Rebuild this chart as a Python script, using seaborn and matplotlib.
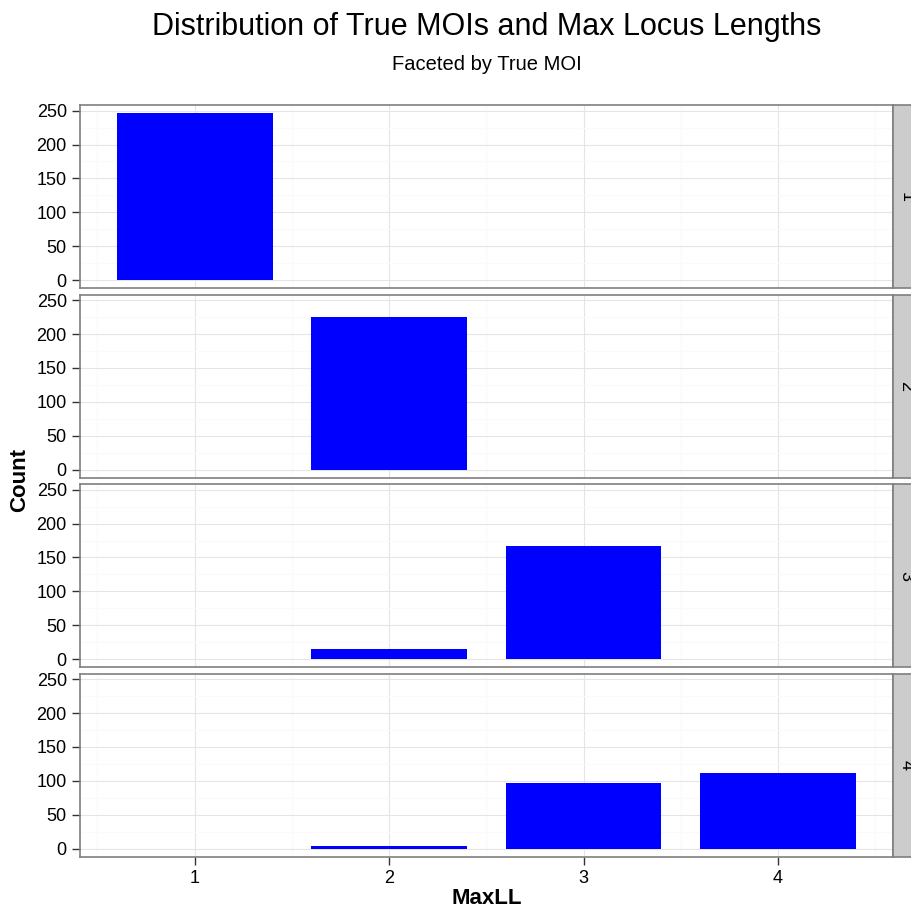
import pandas as pd
import matplotlib.pyplot as plt
import seaborn as sns
from matplotlib.patches import Rectangle
from matplotlib.ticker import MultipleLocator

# --------------------------
# DATA
# --------------------------
maxll = [1, 2, 3, 4]
true_moi = [1, 2, 3, 4]
counts_moi1 = [246, 0, 0, 0]
counts_moi2 = [0, 225, 0, 0]
counts_moi3 = [0, 15, 167, 0]
counts_moi4 = [0, 4, 97, 112]

all_counts = [counts_moi1, counts_moi2, counts_moi3, counts_moi4]
df = pd.DataFrame({
    "TrueMOI": [m for m in true_moi for _ in maxll],
    "MaxLL": maxll * len(true_moi),
    "Count": [c for row in all_counts for c in row],
})

# --------------------------
# STYLE
# --------------------------
sns.set_theme(style="white")
plt.rcParams["font.family"] = ["Liberation Sans", "DejaVu Sans"]
plt.rcParams["text.color"] = "black"

fig, axes = plt.subplots(4, 1, figsize=(9.12, 9.09), dpi=100, sharex=True, sharey=True)
fig.subplots_adjust(left=0.0877, right=0.979, top=0.8845, bottom=0.0572, hspace=0.033)

strip_w = 22 / 813

for ax, moi in zip(axes, true_moi):
    sub = df[df["TrueMOI"] == moi]
    sns.barplot(data=sub, x="MaxLL", y="Count", native_scale=True, width=0.8,
                color="#0000FF", saturation=1, linewidth=0, errorbar=None, ax=ax)
    ax.set_xlim(0.41, 4.59)
    ax.set_ylim(-12.3, 258.3)
    ax.xaxis.set_major_locator(MultipleLocator(1))
    ax.xaxis.set_minor_locator(MultipleLocator(0.5))
    ax.yaxis.set_major_locator(MultipleLocator(50))
    ax.yaxis.set_minor_locator(MultipleLocator(25))
    ax.grid(True, which="minor", color="#FAFAFA", linewidth=0.8)
    ax.grid(True, which="major", color="#E5E5E5", linewidth=0.8)
    ax.set_axisbelow(True)
    for s in ax.spines.values():
        s.set_color("#7F7F7F")
        s.set_linewidth(1.2)
    ax.tick_params(axis="both", which="major", length=5.5, width=1, color="#333333",
                   labelsize=13, labelcolor="black", left=True, bottom=True, pad=4)
    ax.tick_params(axis="both", which="minor", length=0)
    ax.set_xlabel("")
    ax.set_ylabel("")

    # facet strip on the right
    ax.add_patch(Rectangle((1.0, 0.0), strip_w * 1.6, 1.0, transform=ax.transAxes,
                           facecolor="#CCCCCC", edgecolor="#7F7F7F", linewidth=1.2,
                           clip_on=False, zorder=5))
    ax.text(1.0 + strip_w * 0.6, 0.5, str(moi), transform=ax.transAxes, rotation=-90,
            ha="center", va="center", fontsize=13, color="black", zorder=6)

for ax in axes[:-1]:
    ax.tick_params(axis="x", which="major", labelbottom=False, length=0)

axes[-1].set_xticks(maxll)
axes[-1].set_xticklabels([str(v) for v in maxll])

cx = (80 + 893) / 2 / 912
fig.text(cx, 1 - 27 / 909, "Distribution of True MOIs and Max Locus Lengths",
         ha="center", va="center", fontsize=22, color="black")
fig.text(cx, 1 - 65 / 909, "Faceted by True MOI", ha="center", va="center",
         fontsize=14.5, color="black")
fig.text(cx, 1 - 898 / 909, "MaxLL", ha="center", va="center", fontsize=16,
         fontweight="bold", color="black")
fig.text(20 / 912, 1 - 480 / 909, "Count", ha="center", va="center", rotation=90,
         fontsize=16, fontweight="bold", color="black")

fig.savefig("out.png", dpi=100)
